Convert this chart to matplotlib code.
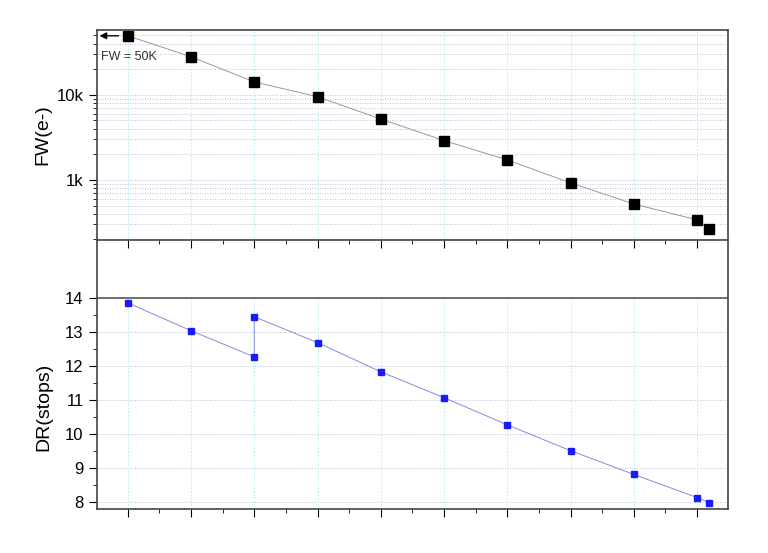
import numpy as np
import matplotlib.pyplot as plt
from matplotlib.ticker import LogLocator, FuncFormatter, NullFormatter, MultipleLocator

plt.rcParams['font.family'] = ['Liberation Sans', 'DejaVu Sans']

# data
fw_x = [0, 1, 2, 3, 4, 5, 6, 7, 8, 9, 9.19]
fw_e = [49400, 28000, 14200, 9500, 5200, 2900, 1720, 923, 522, 340, 265]

dr_x = [0, 1, 2, 2, 3, 4, 5, 6, 7, 8, 9, 9.19]
dr_stops = [13.85, 13.03, 12.26, 13.44, 12.68, 11.82, 11.06, 10.26, 9.5, 8.8, 8.12, 7.97]

fig = plt.figure(figsize=(7.68, 5.53), dpi=100)
ax2 = fig.add_axes([0.126, 0.080, 0.822, 0.486])
ax1 = fig.add_axes([0.126, 0.566, 0.822, 0.38])
ax2.set_facecolor('none')

grid_h = dict(color='#aaaad0', linestyle=(0, (1, 2)), linewidth=0.6)
grid_v = dict(color='#aaeeee', linestyle=(0, (2, 2)), linewidth=0.6)

# top panel: full well
ax1.plot(fw_x, fw_e, color='#999999', linewidth=0.7, marker='s',
         markersize=7, markerfacecolor='black', markeredgecolor='black')
ax1.set_yscale('log')
ax1.set_ylim(197, 58000)
ax1.yaxis.set_major_locator(LogLocator(base=10))
ax1.yaxis.set_minor_locator(LogLocator(base=10, subs=np.arange(2, 10)))
ax1.yaxis.set_major_formatter(FuncFormatter(lambda v, p: {1000: '1k', 10000: '10k'}.get(int(round(v)), '')))
ax1.yaxis.set_minor_formatter(NullFormatter())
ax1.set_ylabel('FW(e-)', fontsize=14)
ax1.grid(True, which='both', axis='y', **grid_h)
ax1.grid(True, which='major', axis='x', **grid_v)
ax1.annotate('', xy=(-0.49, fw_e[0]), xytext=(-0.1, fw_e[0]),
             arrowprops=dict(arrowstyle='-|>', color='black', lw=1))
ax1.text(-0.42, 28000, 'FW = 50K', fontsize=9, va='center', color='#333333')

# bottom panel: dynamic range
ax2.plot(dr_x, dr_stops, color='#8888dd', linewidth=0.7, marker='s',
         markersize=5, markerfacecolor='#1a1aff', markeredgecolor='#1a1aff')
ax2.set_ylim(7.79, 15.7)
ax2.set_yticks(range(8, 15))
ax2.axhline(14, color='#555555', linewidth=1.2)
ax2.set_ylabel('DR(stops)', fontsize=14)
ax2.yaxis.set_label_coords(-0.07, 0.38)
for y in range(8, 14):
    ax2.axhline(y, zorder=0, **grid_h)
for x in range(10):
    ax2.plot([x, x], [7.79, 14], zorder=0, **grid_v)

for ax in (ax1, ax2):
    ax.set_xlim(-0.49, 9.49)
    ax.xaxis.set_major_locator(MultipleLocator(1))
    ax.xaxis.set_minor_locator(MultipleLocator(0.5))
    ax.tick_params(axis='x', which='both', labelbottom=False)
    ax.tick_params(which='major', length=6, direction='out', right=False, top=False)
    ax.tick_params(which='minor', length=3, direction='out', right=False, top=False)
    ax.tick_params(axis='y', labelsize=12)
    for s in ax.spines.values():
        s.set_color('#444444')
        s.set_linewidth(1.2)
ax2.spines['top'].set_visible(False)
ax2.set_yticks([v for v in np.arange(8, 14.01, 0.5) if v % 1], minor=True)

fig.savefig('out.png', dpi=100)
